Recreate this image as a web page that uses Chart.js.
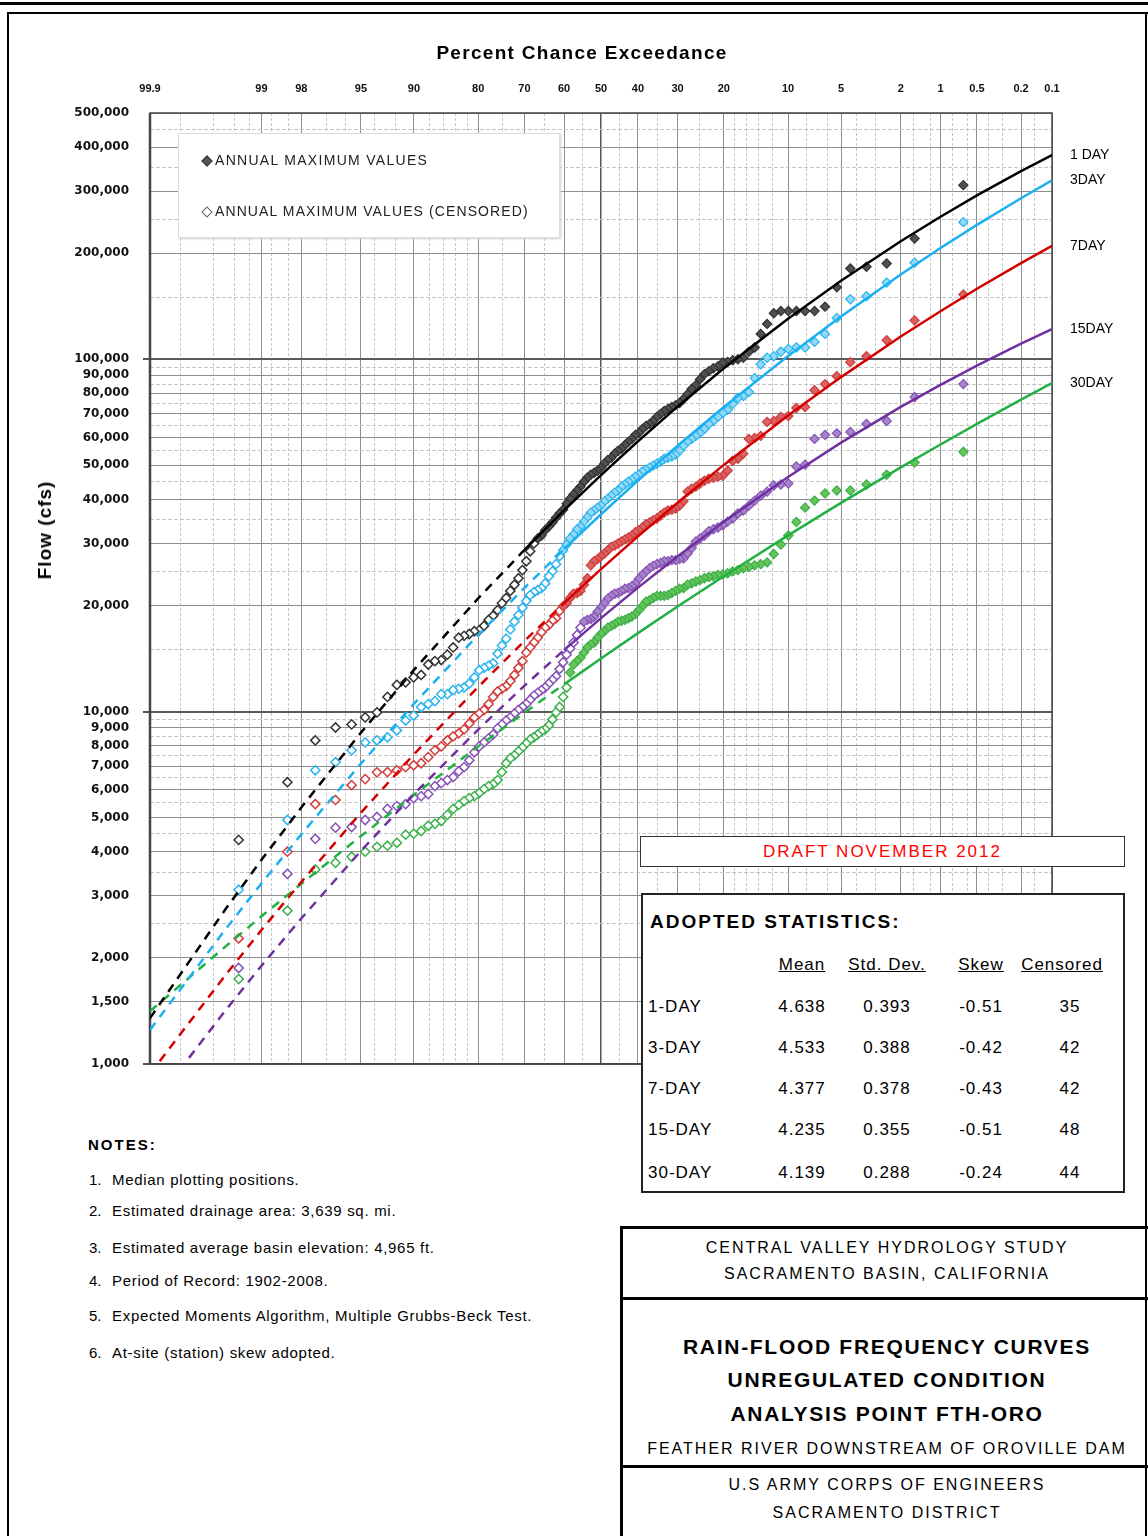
<!DOCTYPE html>
<html>
<head>
<meta charset="utf-8">
<title>Rain-Flood Frequency Curves - FTH-ORO</title>
<script src="https://cdn.jsdelivr.net/npm/chart.js@4.4.0/dist/chart.umd.min.js"></script>
<style>
  html, body { margin: 0; padding: 0; background: #fff; }
  body { width: 1148px; height: 1536px; position: relative; overflow: hidden;
         font-family: "Liberation Sans", Arial, sans-serif; color: #000; }
  #chartWrap { position: absolute; left: 0; top: 0; width: 1148px; height: 1085px; }
  .abs { position: absolute; white-space: nowrap; }
  .rule { position: absolute; background: #000; }
  .legend { position: absolute; left: 178px; top: 133px; width: 380px; height: 103px; background: #fff;
            border: 1px solid #dcdcdc; box-shadow: 1px 1px 2px #d0d0d0; z-index: 5; }
  .dia { position: absolute; width: 6px; height: 6px; transform: rotate(45deg); }
  .draft { position: absolute; left: 640px; top: 836px; width: 483px; height: 29px; border: 1px solid #333;
           background: #fff; color: #f00; font-size: 17px; line-height: 29px; text-align: center; z-index: 5;
           letter-spacing: 2px; }
  .stats { position: absolute; left: 641px; top: 893px; width: 480px; height: 296px; border: 2px solid #222;
           background: #fff; z-index: 5; font-size: 17px; letter-spacing: 1px; }
  .stats .c { position: absolute; width: 110px; text-align: center; line-height: 20px; }
  .title-block div { position: absolute; left: 623px; width: 528px; text-align: center; white-space: nowrap; }
</style>
</head>
<body>

<div class="rule" style="left:0;top:2px;width:1148px;height:3px"></div>
<div class="rule" style="left:7px;top:12px;width:1141px;height:2px"></div>
<div class="rule" style="left:7px;top:12px;width:2px;height:1524px"></div>
<div class="rule" style="left:1145px;top:12px;width:2px;height:1524px"></div>

<div id="chartWrap"><canvas id="chart" width="1148" height="1085"></canvas></div>

<div class="abs" style="left:582px;top:53px;transform:translate(-50%,-50%);font-weight:bold;font-size:19px;letter-spacing:1.3px">Percent Chance Exceedance</div>
<div class="abs" style="left:45px;top:530px;transform:translate(-50%,-50%) rotate(-90deg);font-weight:bold;font-size:19px;letter-spacing:1px">Flow (cfs)</div>

<div class="legend">
  <span class="dia" style="left:24px;top:23px;background:#555;border:1px solid #333"></span>
  <div class="abs" style="left:36px;top:17px;font-size:14px;line-height:18px;color:#222;letter-spacing:1.3px">ANNUAL MAXIMUM VALUES</div>
  <span class="dia" style="left:24px;top:74px;background:#fff;border:1px solid #666"></span>
  <div class="abs" style="left:36px;top:68px;font-size:14px;line-height:18px;color:#222;letter-spacing:1.1px">ANNUAL MAXIMUM VALUES (CENSORED)</div>
</div>

<div class="draft">DRAFT NOVEMBER 2012</div>

<div class="stats" id="stats">
  <div class="abs" style="left:7px;top:16px;font-weight:bold;font-size:19px;line-height:22px;letter-spacing:2px">ADOPTED STATISTICS:</div>
</div>

<div class="abs" style="left:88px;top:1136px;font-weight:bold;font-size:15px;line-height:18px;letter-spacing:2px">NOTES:</div>
<div id="notes"></div>

<div class="rule" style="left:620px;top:1226px;width:3px;height:310px"></div>
<div class="rule" style="left:620px;top:1226px;width:528px;height:3px"></div>
<div class="rule" style="left:620px;top:1297px;width:528px;height:3px"></div>
<div class="rule" style="left:620px;top:1465px;width:528px;height:3px"></div>
<div class="title-block">
  <div style="top:1238px;font-size:16px;line-height:20px;letter-spacing:2px">CENTRAL VALLEY HYDROLOGY STUDY</div>
  <div style="top:1264px;font-size:16px;line-height:20px;letter-spacing:2px">SACRAMENTO BASIN, CALIFORNIA</div>
  <div style="top:1334px;font-size:21px;line-height:26px;font-weight:bold;letter-spacing:1.7px">RAIN-FLOOD FREQUENCY CURVES</div>
  <div style="top:1367px;font-size:21px;line-height:26px;font-weight:bold;letter-spacing:1.7px">UNREGULATED CONDITION</div>
  <div style="top:1401px;font-size:21px;line-height:26px;font-weight:bold;letter-spacing:1.7px">ANALYSIS POINT FTH-ORO</div>
  <div style="top:1439px;font-size:16px;line-height:20px;letter-spacing:2px">FEATHER RIVER DOWNSTREAM OF OROVILLE DAM</div>
  <div style="top:1475px;font-size:16px;line-height:20px;letter-spacing:2px">U.S ARMY CORPS OF ENGINEERS</div>
  <div style="top:1503px;font-size:16px;line-height:20px;letter-spacing:2px">SACRAMENTO DISTRICT</div>
</div>

<script>
// median plotting positions (percent chance exceedance), rank 1..107
const plotPos = [
  0.652, 1.583, 2.514, 3.445, 4.376, 5.307, 6.238, 7.169, 8.101, 9.032,
  9.963, 10.894, 11.825, 12.756, 13.687, 14.618, 15.549, 16.480, 17.412, 18.343,
  19.274, 20.205, 21.136, 22.067, 22.998, 23.929, 24.860, 25.791, 26.723, 27.654,
  28.585, 29.516, 30.447, 31.378, 32.309, 33.240, 34.171, 35.102, 36.034, 36.965,
  37.896, 38.827, 39.758, 40.689, 41.620, 42.551, 43.482, 44.413, 45.345, 46.276,
  47.207, 48.138, 49.069, 50.000, 50.931, 51.862, 52.793, 53.724, 54.655, 55.587,
  56.518, 57.449, 58.380, 59.311, 60.242, 61.173, 62.104, 63.035, 63.966, 64.898,
  65.829, 66.760, 67.691, 68.622, 69.553, 70.484, 71.415, 72.346, 73.277, 74.209,
  75.140, 76.071, 77.002, 77.933, 78.864, 79.795, 80.726, 81.657, 82.588, 83.520,
  84.451, 85.382, 86.313, 87.244, 88.175, 89.106, 90.037, 90.968, 91.899, 92.831,
  93.762, 94.693, 95.624, 96.555, 97.486, 98.417, 99.348
];

// annual maximum flows (cfs), largest first
const oneDayFlow = [
  312000, 220000, 187000, 183000, 181000, 160000, 141000, 137000, 137000, 137000,
  137000, 137000, 135000, 126000, 118000, 108000, 105000, 101000, 100000, 99300,
  98300, 97800, 95500, 94300, 92500, 90700, 87800, 84400, 82300, 79600,
  77100, 75100, 74100, 73200, 72200, 71300, 69900, 68600, 66800, 65500,
  64700, 63400, 61800, 61000, 59400, 58300, 57100, 55700, 55000, 53900,
  52500, 51800, 50500, 49200, 48300, 47600, 47000, 46100, 44900, 43500,
  42400, 41300, 40200, 38900, 37400, 36500, 35500, 34400, 33500, 32700,
  31600, 31000, 30000, 28500, 26700, 25200, 23900, 22900, 22000, 21000,
  20300, 19400, 18700, 18200, 17500, 17000, 16900, 16600, 16400, 16200,
  15200, 14500, 14000, 13900, 13600, 12700, 12500, 12100, 11900, 11000,
  9940, 9620, 9190, 9010, 8280, 6300, 4320
];
const threeDayFlow = [
  245000, 188000, 165000, 151000, 148000, 131000, 118000, 112000, 108000, 108000,
  107000, 105000, 102000, 101000, 96800, 88400, 80700, 78600, 77600, 74700,
  71800, 70400, 68600, 66800, 65500, 63400, 61800, 60600, 59400, 58300,
  56800, 55000, 53600, 52900, 52500, 52200, 51200, 50500, 49900, 49200,
  48600, 48000, 47000, 46400, 45500, 44900, 44100, 43500, 42400, 41800,
  41000, 40200, 39500, 38400, 37900, 37200, 36700, 35600, 34600, 33500,
  32900, 31800, 31000, 29800, 28700, 27600, 26200, 25000, 24200, 23100,
  22400, 22100, 21800, 21400, 20600, 19700, 18800, 18000, 17100, 16100,
  15400, 14600, 13700, 13500, 13300, 13100, 12500, 12000, 11700, 11600,
  11500, 11200, 11200, 10700, 10500, 10300, 9740, 9430, 8840, 8450,
  8280, 8170, 7760, 7180, 6810, 4920, 3120
];
const sevenDayFlow = [
  152600, 128900, 113200, 102000, 98100, 89500, 85000, 81700, 73200, 72700,
  69000, 68600, 66800, 66400, 60600, 59800, 59400, 53900, 52200, 51500,
  48300, 46700, 46400, 46100, 45800, 45200, 44400, 43500, 42900, 42100,
  39500, 38400, 37700, 37400, 37200, 36700, 36000, 35300, 34900, 34400,
  34000, 33300, 32700, 32300, 31600, 31200, 30800, 30400, 30000, 29600,
  29300, 28700, 28100, 27600, 27100, 26700, 26000, 23900, 22900, 22000,
  21700, 21600, 21000, 20300, 19900, 19300, 18400, 18100, 17600, 17300,
  16800, 16200, 15700, 15200, 14700, 13900, 13300, 12700, 12200, 11800,
  11600, 11400, 11000, 10500, 10100, 9870, 9620, 9250, 8900, 8670,
  8500, 8280, 7960, 7760, 7420, 7130, 7040, 6950, 6810, 6730,
  6720, 6430, 6180, 5610, 5460, 4000, 2270
];
const fifteenDayFlow = [
  85000, 78100, 66800, 65500, 62200, 61600, 61000, 59400, 50200, 49600,
  44400, 44100, 43800, 42100, 41000, 39700, 38400, 37200, 36500, 35300,
  34600, 33800, 33300, 32900, 32500, 31600, 31000, 30400, 29100, 28100,
  27200, 27100, 26900, 26900, 26700, 26700, 26400, 26200, 25900, 25500,
  25000, 24400, 23800, 23100, 22700, 22400, 22300, 22000, 21700, 21600,
  21300, 20900, 20300, 19700, 19200, 18600, 18300, 18200, 18000, 17300,
  16500, 15700, 15100, 14500, 13800, 13200, 12600, 12300, 12000, 11700,
  11500, 11300, 11100, 10800, 10500, 10300, 10100, 9870, 9620, 9430,
  9190, 8960, 8610, 8390, 8170, 7960, 7660, 7270, 6950, 6770,
  6510, 6390, 6260, 6140, 5830, 5750, 5680, 5460, 5390, 5290,
  5020, 4920, 4700, 4680, 4350, 3460, 1870
];
const thirtyDayFlow = [
  54600, 50900, 47000, 44100, 42400, 42400, 41600, 39700, 37900, 34500,
  31600, 29800, 28000, 26500, 26200, 26000, 25700, 25500, 25200, 25000,
  24700, 24500, 24400, 24200, 24100, 23900, 23600, 23400, 23100, 22900,
  22400, 22300, 22000, 21700, 21400, 21300, 21300, 21300, 21000, 20700,
  20500, 19900, 19400, 18900, 18600, 18400, 18200, 18100, 18000, 17700,
  17500, 17300, 16900, 16600, 16200, 15700, 15500, 15200, 14700, 14200,
  13900, 13600, 12900, 11700, 11000, 10300, 9940, 9490, 9130, 8900,
  8780, 8610, 8450, 8330, 8120, 7910, 7710, 7510, 7370, 7130,
  6730, 6390, 6220, 6140, 6020, 5870, 5750, 5680, 5570, 5430,
  5290, 5090, 4890, 4800, 4740, 4580, 4500, 4470, 4240, 4160,
  4130, 4000, 3870, 3720, 3560, 2720, 1740
];

// fitted frequency curves, read at these exceedance percentages
const curveProbs = [99.9, 99.5, 99, 98, 95, 90, 80, 70, 60, 50, 40, 30, 20, 10, 5, 2, 1, 0.5, 0.2, 0.1];
const oneDayCurve = [1348, 2736, 3793, 5340, 8710, 13130, 20950, 28750, 37230, 46910, 58520, 73340, 94230, 130350, 167000, 216300, 253800, 291900, 341900, 379600];
const threeDayCurve = [1248, 2400, 3252, 4480, 7114, 10520, 16490, 22440, 28900, 36310, 45250, 56790, 73210, 102200, 132300, 174000, 206800, 240600, 286400, 322000];
const sevenDayCurve = [936, 1780, 2398, 3282, 5161, 7563, 11740, 15860, 20300, 25350, 31410, 39150, 50130, 69260, 88980, 116000, 136900, 158500, 187500, 209800];
const fifteenDayCurve = [746, 1413, 1898, 2585, 4023, 5828, 8886, 11840, 14940, 18410, 22470, 27560, 34570, 46340, 57990, 73240, 84620, 95960, 110700, 121700];
const thirtyDayCurve = [1410, 2148, 2622, 3243, 4430, 5800, 7957, 9926, 11940, 14140, 16690, 19860, 24220, 31620, 39110, 49320, 57280, 65520, 76770, 85540];

const seriesNames = ['1 DAY', '3DAY', '7DAY', '15DAY', '30DAY'];
const censoredCounts = [35, 42, 42, 48, 44];
const solidFromProb = [70, 60, 60, 60, 60];

// axis ticks
const xGridProbs = [99.9, 99.8, 99.6, 99.4, 99.2, 99, 98.8, 98.4, 98, 97, 96, 95, 94, 92, 90, 88, 86, 84, 82, 80,
  75, 70, 65, 60, 55, 50, 45, 40, 35, 30, 25, 20, 18, 16, 14, 12, 10, 8, 6, 5, 4, 3, 2, 1.6, 1.2, 1,
  0.8, 0.6, 0.5, 0.4, 0.3, 0.2, 0.15, 0.1];
const xLabelProbs = [99.9, 99, 98, 95, 90, 80, 70, 60, 50, 40, 30, 20, 10, 5, 2, 1, 0.5, 0.2, 0.1];
const yGridValues = [1000, 1500, 2000, 2500, 3000, 3500, 4000, 4500, 5000, 5500, 6000, 6500, 7000, 7500, 8000, 8500,
  9000, 9500, 10000, 15000, 20000, 25000, 30000, 35000, 40000, 45000, 50000, 55000, 60000, 65000, 70000, 75000,
  80000, 85000, 90000, 95000, 100000, 150000, 200000, 250000, 300000, 350000, 400000, 450000, 500000];
const yLabelValues = [1000, 1500, 2000, 3000, 4000, 5000, 6000, 7000, 8000, 9000, 10000, 20000, 30000, 40000,
  50000, 60000, 70000, 80000, 90000, 100000, 200000, 300000, 400000, 500000];
const yDecades = [1000, 10000, 100000];

// adopted statistics table
const statRows = ['1-DAY', '3-DAY', '7-DAY', '15-DAY', '30-DAY'];
const statMean = ['4.638', '4.533', '4.377', '4.235', '4.139'];
const statStd = ['0.393', '0.388', '0.378', '0.355', '0.288'];
const statSkew = ['-0.51', '-0.42', '-0.43', '-0.51', '-0.24'];
const statCens = ['35', '42', '42', '48', '44'];

const notes = [
  'Median plotting positions.',
  'Estimated drainage area: 3,639 sq. mi.',
  'Estimated average basin elevation: 4,965 ft.',
  'Period of Record: 1902-2008.',
  'Expected Moments Algorithm, Multiple Grubbs-Beck Test.',
  'At-site (station) skew adopted.'
];

const lineColors = ['#000000', '#1cb0f0', '#d40000', '#7030a0', '#22b043'];
const fillColors = ['#505050', '#93d8f7', '#d86262', '#a585c8', '#66c458'];
const openColors = ['#333333', '#2ab4ee', '#d23c3c', '#8752b8', '#3bb04a'];

// inverse standard normal (Acklam)
function normInv(p) {
  const a = [-39.69683028665376, 220.9460984245205, -275.9285104469687, 138.3577518672690, -30.66479806614716, 2.506628277459239];
  const b = [-54.47609879822406, 161.5858368580409, -155.6989798598866, 66.80131188771972, -13.28068155288572];
  const c = [-0.007784894002430293, -0.3223964580411365, -2.400758277161838, -2.549732539343734, 4.374664141464968, 2.938163982698783];
  const d = [0.007784695709041462, 0.3224671290700398, 2.445134137142996, 3.754408661907416];
  const plow = 0.02425;
  let q, r;
  if (p < plow) {
    q = Math.sqrt(-2 * Math.log(p));
    return (((((c[0] * q + c[1]) * q + c[2]) * q + c[3]) * q + c[4]) * q + c[5]) / ((((d[0] * q + d[1]) * q + d[2]) * q + d[3]) * q + 1);
  }
  if (p <= 1 - plow) {
    q = p - 0.5; r = q * q;
    return (((((a[0] * r + a[1]) * r + a[2]) * r + a[3]) * r + a[4]) * r + a[5]) * q / (((((b[0] * r + b[1]) * r + b[2]) * r + b[3]) * r + b[4]) * r + 1);
  }
  q = Math.sqrt(-2 * Math.log(1 - p));
  return -(((((c[0] * q + c[1]) * q + c[2]) * q + c[3]) * q + c[4]) * q + c[5]) / ((((d[0] * q + d[1]) * q + d[2]) * q + d[3]) * q + 1);
}
// exceedance percent -> normal probability axis position
const toZ = pct => normInv(1 - pct / 100);

const obsFlows = [oneDayFlow, threeDayFlow, sevenDayFlow, fifteenDayFlow, thirtyDayFlow];
const curveFlows = [oneDayCurve, threeDayCurve, sevenDayCurve, fifteenDayCurve, thirtyDayCurve];

const datasets = [];
seriesNames.forEach((name, s) => {
  const pts = curveProbs.map((p, i) => ({ x: toZ(p), y: curveFlows[s][i] }));
  const k = curveProbs.indexOf(solidFromProb[s]);
  datasets.push({
    label: name, data: pts.slice(k), showLine: true, borderColor: lineColors[s],
    borderWidth: 2.5, pointRadius: 0, order: 1
  });
  datasets.push({
    label: name + ' (extrapolated)', data: pts.slice(0, k + 1), showLine: true, borderColor: lineColors[s],
    borderWidth: 2.5, borderDash: [9, 7], pointRadius: 0, order: 1
  });
  const obs = plotPos.map((p, i) => ({ x: toZ(p), y: obsFlows[s][i] }));
  const kept = obs.length - censoredCounts[s];
  datasets.push({
    label: name + ' annual max', data: obs.slice(0, kept), pointStyle: 'rectRot', pointRadius: 4.6,
    backgroundColor: fillColors[s], borderColor: openColors[s], borderWidth: 1.2, order: 2
  });
  datasets.push({
    label: name + ' annual max (censored)', data: obs.slice(kept), pointStyle: 'rectRot', pointRadius: 4.6,
    backgroundColor: '#ffffff', borderColor: openColors[s], borderWidth: 1.5, order: 2
  });
});

const fmt = new Intl.NumberFormat('en-US');

const framePlugin = {
  id: 'frame',
  beforeDatasetsDraw(chart) {
    const { ctx, chartArea: a } = chart;
    ctx.save();
    ctx.strokeStyle = '#444';
    ctx.lineWidth = 1.5;
    ctx.strokeRect(a.left, a.top, a.right - a.left, a.bottom - a.top);
    ctx.lineWidth = 2.5;
    ctx.beginPath();
    ctx.moveTo(a.left, a.top);
    ctx.lineTo(a.left, a.bottom);
    ctx.stroke();
    ctx.restore();
  }
};

const endLabels = {
  id: 'endLabels',
  afterDraw(chart) {
    const { ctx, chartArea: a } = chart;
    const y = chart.scales.y;
    ctx.save();
    ctx.font = '14px "Liberation Sans", Arial, sans-serif';
    ctx.fillStyle = '#000';
    ctx.textBaseline = 'middle';
    seriesNames.forEach((name, s) => {
      const last = curveFlows[s][curveFlows[s].length - 1];
      ctx.fillText(name, a.right + 18, y.getPixelForValue(last));
    });
    ctx.restore();
  }
};

new Chart(document.getElementById('chart'), {
  type: 'scatter',
  data: { datasets },
  plugins: [framePlugin, endLabels],
  options: {
    responsive: false,
    animation: false,
    devicePixelRatio: 1,
    layout: { padding: { left: 70, right: 96, top: 30, bottom: 17 } },
    plugins: { legend: { display: false }, tooltip: { enabled: false } },
    scales: {
      x: {
        type: 'linear',
        position: 'top',
        min: toZ(99.9),
        max: toZ(0.1),
        afterBuildTicks: scale => { scale.ticks = xGridProbs.map(p => ({ value: toZ(p) })); },
        afterFit: scale => { scale.height = 83; },
        ticks: {
          autoSkip: false, maxRotation: 0, minRotation: 0, padding: 17,
          color: '#111', font: { family: '"Liberation Sans", Arial, sans-serif', size: 11, weight: 'bold' },
          callback: (v, i) => xLabelProbs.includes(xGridProbs[i]) ? String(xGridProbs[i]) : ''
        },
        grid: {
          drawTicks: false,
          color: c => {
            const p = xGridProbs[c.index];
            if (p === 50) return '#555';
            return xLabelProbs.includes(p) ? '#8e8e8e' : '#c6c6c6';
          },
          lineWidth: c => xGridProbs[c.index] === 50 ? 1.5 : 1
        },
        border: {
          display: false,
          dash: c => (c.tick && !xLabelProbs.includes(xGridProbs[c.index])) ? [3, 2] : []
        }
      },
      y: {
        type: 'logarithmic',
        min: 1000,
        max: 500000,
        afterBuildTicks: scale => { scale.ticks = yGridValues.map(v => ({ value: v })); },
        afterFit: scale => { scale.width = 80; },
        ticks: {
          autoSkip: false, padding: 14, color: '#111',
          font: { family: '"DejaVu Sans", sans-serif', size: 12, weight: 'bold' },
          callback: v => yLabelValues.includes(v) ? fmt.format(v) : ''
        },
        grid: {
          tickLength: 7,
          tickColor: c => (c.tick && yDecades.includes(c.tick.value)) ? '#555' : 'rgba(0,0,0,0)',
          color: c => {
            const v = c.tick ? c.tick.value : 0;
            if (yDecades.includes(v)) return '#5a5a5a';
            return yLabelValues.includes(v) ? '#8e8e8e' : '#c6c6c6';
          },
          lineWidth: c => (c.tick && yDecades.includes(c.tick.value)) ? 2 : 1
        },
        border: {
          display: false,
          dash: c => (c.tick && !yLabelValues.includes(c.tick.value)) ? [4, 2] : []
        }
      }
    }
  }
});

// statistics table
(function () {
  const box = document.getElementById('stats');
  const add = (html, left, top, extra) => {
    const el = document.createElement('div');
    el.className = 'c';
    el.style.left = left + 'px';
    el.style.top = top + 'px';
    if (extra) el.style.cssText += extra;
    el.innerHTML = html;
    box.appendChild(el);
  };
  const ox = 643, oy = 895;
  const colCenters = [802, 887, 981, 1062];
  const valCenters = [802, 887, 981, 1070];
  ['Mean', 'Std. Dev.', 'Skew', 'Censored'].forEach((h, j) =>
    add('<u>' + h + '</u>', colCenters[j] - 55 - ox, 965 - 10 - oy));
  const rowY = [1007, 1048, 1089, 1130, 1173];
  statRows.forEach((r, i) => {
    const t = rowY[i] - 10 - oy;
    add(r, 648 - ox, t, 'text-align:left;');
    [statMean, statStd, statSkew, statCens].forEach((col, j) => add(col[i], valCenters[j] - 55 - ox, t));
  });
})();

// notes
(function () {
  const wrap = document.getElementById('notes');
  const ys = [1180, 1211, 1248, 1281, 1316, 1353];
  notes.forEach((n, i) => {
    const num = document.createElement('div');
    num.className = 'abs';
    num.style.cssText = 'left:89px;top:' + (ys[i] - 9) + 'px;font-size:15px;line-height:18px';
    num.textContent = (i + 1) + '.';
    wrap.appendChild(num);
    const txt = document.createElement('div');
    txt.className = 'abs';
    txt.style.cssText = 'left:112px;top:' + (ys[i] - 9) + 'px;font-size:15px;line-height:18px;letter-spacing:0.7px';
    txt.textContent = n;
    wrap.appendChild(txt);
  });
})();
</script>
</body>
</html>
